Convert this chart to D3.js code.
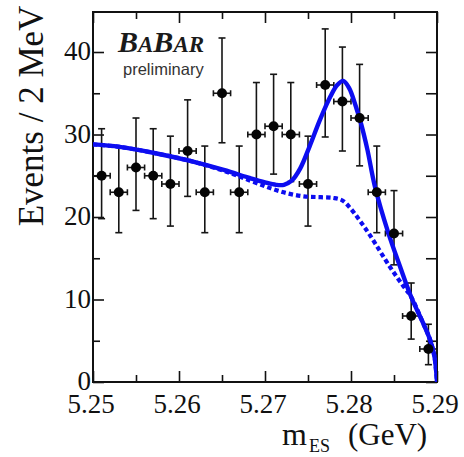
<!DOCTYPE html>
<html>
<head>
<meta charset="utf-8">
<script src="https://cdn.jsdelivr.net/npm/d3@7"></script>
<style>
  html, body { margin: 0; padding: 0; background: #fff; }
  svg { display: block; }
</style>
</head>
<body>
<svg id="chart" width="464" height="457"></svg>
<script>
// ---- data ----
const xTicks = [5.25, 5.26, 5.27, 5.28, 5.29];
const xTickLabels = ["5.25", "5.26", "5.27", "5.28", "5.29"];
const yTicks = [0, 10, 20, 30, 40];
const yTickLabels = ["0", "10", "20", "30", "40"];

const binCenters = [5.251, 5.253, 5.255, 5.257, 5.259, 5.261, 5.263, 5.265, 5.267, 5.269,
                    5.271, 5.273, 5.275, 5.277, 5.279, 5.281, 5.283, 5.285, 5.287, 5.289];
const counts   = [25, 23, 26, 25, 24, 28, 23, 35, 23, 30, 31, 30, 24, 36, 34, 32, 23, 18, 8, 4];
const errHigh  = [30.7, 28.5, 32.0, 30.7, 29.8, 34.2, 28.6, 41.7, 28.6, 36.3,
                  37.3, 36.3, 29.8, 42.8, 40.6, 38.5, 28.6, 23.2, 12.0, 7.0];
const errLow   = [19.8, 18.1, 20.8, 19.8, 18.9, 22.5, 18.1, 29.0, 18.1, 24.5,
                  25.2, 24.3, 18.9, 29.7, 28.0, 26.2, 18.1, 14.2, 5.2, 2.1];
const binHalfWidth = 0.001;

// total fit (solid)
const fitX = [5.2500, 5.2531, 5.2574, 5.2613, 5.2652, 5.2683, 5.2700, 5.2713, 5.2722, 5.2731,
              5.2741, 5.2752, 5.2764, 5.2776, 5.2784, 5.2791, 5.2798, 5.2805, 5.2812, 5.2819,
              5.2828, 5.2843, 5.2857, 5.2870, 5.2884, 5.2892, 5.2897, 5.2900];
const fitY = [28.8, 28.5, 27.7, 26.8, 25.7, 24.7, 24.2, 23.9, 23.9, 24.4,
              25.9, 28.6, 31.8, 34.6, 36.0, 36.5, 35.6, 33.6, 31.2, 28.2,
              23.6, 18.2, 14.0, 10.3, 7.1, 5.1, 3.1, 0.0];
// background (dashed)
const bkgX = [5.2500, 5.2531, 5.2574, 5.2613, 5.2652, 5.2683, 5.2706, 5.2725, 5.2745, 5.2765,
              5.2780, 5.2790, 5.2799, 5.2810, 5.2822, 5.2845, 5.2861, 5.2870, 5.2884, 5.2892,
              5.2897, 5.2900];
const bkgY = [28.8, 28.5, 27.7, 26.8, 25.6, 24.4, 23.5, 22.9, 22.5, 22.4,
              22.3, 22.0, 21.1, 19.6, 17.8, 14.0, 11.6, 10.3, 7.1, 5.1,
              3.1, 0.0];

const yAxisTitle = "Events / 2 MeV";
const xAxisMain = "m";
const xAxisSub = "ES";
const xAxisUnit = "(GeV)";

// ---- drawing ----
const svg = d3.select("#chart");
const L = 93, R = 437, T = 12, B = 382;
const x = d3.scaleLinear().domain([5.25, 5.29]).range([L, R]);
const y = d3.scaleLinear().domain([0, 44.85]).range([B, T]);

const serif = "'Liberation Serif', 'DejaVu Serif', serif";
const sans = "'Liberation Sans', Arial, sans-serif";
const blue = "#0d0df0";

svg.append("defs").append("clipPath").attr("id", "plotclip")
  .append("rect").attr("x", L).attr("y", T).attr("width", R - L).attr("height", B - T);

const xMinor = d3.range(5.255, 5.29, 0.01);
const yMinor = [5, 15, 25, 35];

const gxb = svg.append("g").attr("transform", `translate(0,${B})`)
  .call(d3.axisBottom(x).tickValues(xTicks).tickSize(-11).tickFormat(() => ""));
const gxbm = svg.append("g").attr("transform", `translate(0,${B})`)
  .call(d3.axisBottom(x).tickValues(xMinor).tickSize(-7).tickFormat(() => ""));
const gxt = svg.append("g").attr("transform", `translate(0,${T})`)
  .call(d3.axisTop(x).tickValues(xTicks).tickSize(-11).tickFormat(() => ""));
const gxtm = svg.append("g").attr("transform", `translate(0,${T})`)
  .call(d3.axisTop(x).tickValues(xMinor).tickSize(-7).tickFormat(() => ""));
const gyl = svg.append("g").attr("transform", `translate(${L},0)`)
  .call(d3.axisLeft(y).tickValues(yTicks).tickSize(-11).tickFormat(() => ""));
const gylm = svg.append("g").attr("transform", `translate(${L},0)`)
  .call(d3.axisLeft(y).tickValues(yMinor).tickSize(-7).tickFormat(() => ""));
const gyr = svg.append("g").attr("transform", `translate(${R},0)`)
  .call(d3.axisRight(y).tickValues(yTicks.concat(yMinor)).tickSize(-11).tickFormat(() => ""));

[gxb, gxbm, gxt, gxtm, gyl, gylm, gyr].forEach(g => {
  g.select(".domain").remove();
  g.selectAll(".tick line").attr("stroke", "#111").attr("stroke-width", 1.6);
});

svg.append("rect").attr("x", L).attr("y", T).attr("width", R - L).attr("height", B - T)
  .attr("fill", "none").attr("stroke", "#111").attr("stroke-width", 2);

// tick labels
svg.append("g").selectAll("text").data(xTicks).join("text")
  .attr("x", d => x(d) - 2).attr("y", 413)
  .attr("text-anchor", "middle")
  .attr("font-family", serif).attr("font-size", 27).attr("fill", "#111")
  .text((d, i) => xTickLabels[i]);
svg.append("g").selectAll("text").data(yTicks).join("text")
  .attr("x", 91).attr("y", d => y(d) + 8)
  .attr("text-anchor", "end")
  .attr("font-family", serif).attr("font-size", 27).attr("fill", "#111")
  .text((d, i) => yTickLabels[i]);

// axis titles
svg.append("text")
  .attr("transform", "translate(43,116) rotate(-90)")
  .attr("text-anchor", "middle")
  .attr("font-family", serif).attr("font-size", 35).attr("fill", "#111")
  .text(yAxisTitle);
svg.append("text").attr("x", 282).attr("y", 445)
  .attr("font-family", serif).attr("font-size", 32).attr("fill", "#111").text(xAxisMain);
svg.append("text").attr("x", 309).attr("y", 452)
  .attr("font-family", serif).attr("font-size", 18).attr("fill", "#111").text(xAxisSub);
svg.append("text").attr("x", 348).attr("y", 445)
  .attr("font-family", serif).attr("font-size", 31).attr("fill", "#111").text(xAxisUnit);

// BABAR logo text
const logo = svg.append("text").attr("x", 118).attr("y", 52)
  .attr("font-family", serif).attr("font-weight", "bold").attr("font-style", "italic")
  .attr("fill", "#1a1a1a");
logo.append("tspan").attr("font-size", 30).text("B");
logo.append("tspan").attr("font-size", 23).text("A");
logo.append("tspan").attr("font-size", 30).text("B");
logo.append("tspan").attr("font-size", 23).text("AR");
svg.append("text").attr("x", 123).attr("y", 75)
  .attr("font-family", sans).attr("font-size", 16.5).attr("fill", "#333")
  .text("preliminary");

// data points with error bars
const pts = binCenters.map((c, i) => ({ c, n: counts[i], hi: errHigh[i], lo: errLow[i] }));
const pg = svg.append("g").attr("stroke", "#151515").attr("stroke-width", 1.6);
pg.selectAll(".ev").data(pts).join("line").attr("class", "ev")
  .attr("x1", d => x(d.c)).attr("x2", d => x(d.c))
  .attr("y1", d => y(d.hi)).attr("y2", d => y(d.lo));
pg.selectAll(".capt").data(pts).join("line").attr("class", "capt")
  .attr("x1", d => x(d.c) - 3.5).attr("x2", d => x(d.c) + 3.5)
  .attr("y1", d => y(d.hi)).attr("y2", d => y(d.hi));
pg.selectAll(".capb").data(pts).join("line").attr("class", "capb")
  .attr("x1", d => x(d.c) - 3.5).attr("x2", d => x(d.c) + 3.5)
  .attr("y1", d => y(d.lo)).attr("y2", d => y(d.lo));
pg.selectAll(".eh").data(pts).join("line").attr("class", "eh")
  .attr("x1", d => x(d.c - binHalfWidth)).attr("x2", d => x(d.c + binHalfWidth))
  .attr("y1", d => y(d.n)).attr("y2", d => y(d.n));
pg.selectAll(".capl").data(pts).join("line").attr("class", "capl")
  .attr("x1", d => x(d.c - binHalfWidth)).attr("x2", d => x(d.c - binHalfWidth))
  .attr("y1", d => y(d.n) - 3).attr("y2", d => y(d.n) + 3);
pg.selectAll(".capr").data(pts).join("line").attr("class", "capr")
  .attr("x1", d => x(d.c + binHalfWidth)).attr("x2", d => x(d.c + binHalfWidth))
  .attr("y1", d => y(d.n) - 3).attr("y2", d => y(d.n) + 3);

// curves
const line = d3.line().x(d => x(d[0])).y(d => y(d[1])).curve(d3.curveCatmullRom.alpha(0.5));
const cg = svg.append("g").attr("clip-path", "url(#plotclip)");
cg.append("path").datum(bkgX.map((v, i) => [v, bkgY[i]]))
  .attr("d", line).attr("fill", "none").attr("stroke", blue)
  .attr("stroke-width", 4.2).attr("stroke-dasharray", "4.5,3");
cg.append("path").datum(fitX.map((v, i) => [v, fitY[i]]))
  .attr("d", line).attr("fill", "none").attr("stroke", blue)
  .attr("stroke-width", 4.4).attr("stroke-linejoin", "round");

svg.append("g").selectAll("circle").data(pts).join("circle")
  .attr("cx", d => x(d.c)).attr("cy", d => y(d.n)).attr("r", 5)
  .attr("fill", "#050505");
</script>
</body>
</html>
